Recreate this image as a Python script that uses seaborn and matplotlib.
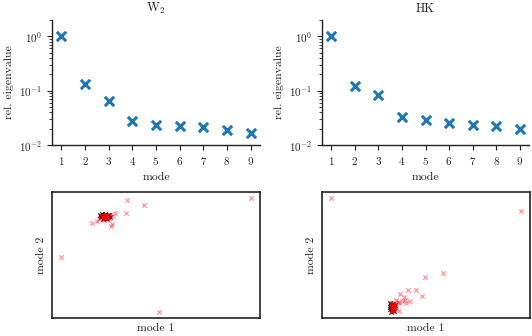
import numpy as np
import pandas as pd
import matplotlib
matplotlib.use("Agg")
import matplotlib.pyplot as plt
import seaborn as sns

# ---- data ----
modes = [1, 2, 3, 4, 5, 6, 7, 8, 9]
eig_w2 = [1.0, 0.134, 0.065, 0.028, 0.0234, 0.0221, 0.0215, 0.0192, 0.0167]
eig_hk = [1.0, 0.1245, 0.0826, 0.0334, 0.0285, 0.0255, 0.0231, 0.0224, 0.0197]

w2_red_m1 = [250, 127, 144, 126, 92, 97, 111, 112, 115, 62, 159,
             104, 106, 107, 105, 108, 103, 106, 109, 101, 110, 113, 100, 104, 99,
             105, 106, 107, 104, 105, 106, 107, 103, 108, 105, 106, 104, 107, 105,
             106, 105, 104, 107, 106, 105]
w2_red_m2 = [138, 136, 131, 123, 113, 115, 110, 112, 123, 79, 24,
             120, 119, 118, 118, 120, 119, 121, 118, 120, 121, 120, 121, 116, 117,
             119, 119, 119, 118, 120, 120, 120, 119, 119, 118, 118, 120, 118, 121,
             121, 119, 119, 120, 119, 120]
w2_blk_m1 = [100, 101, 102, 105, 108, 103, 107, 110, 104, 101, 109]
w2_blk_m2 = [121, 119, 122, 122, 121, 117, 117, 119, 119, 120, 121]

hk_red_m1 = [331, 520, 442, 425, 416, 408, 422, 400, 404, 405, 410, 406, 399, 399,
             396, 398, 402, 395, 392, 393, 394, 392, 395, 391, 394, 393, 396, 392,
             392, 393, 393, 394, 392, 393, 394, 393, 392, 393, 394, 393, 392, 394]
hk_red_m2 = [138, 125, 63, 59, 46, 46, 40, 42, 39, 36, 35, 33, 33, 25,
             36, 34, 35, 33, 31, 29, 27, 25, 30, 28, 32, 26, 28, 33,
             29, 30, 28, 27, 26, 31, 29, 27, 28, 26, 30, 25, 30, 28]
hk_blk_m1 = [390, 391, 393, 390, 394, 392, 395, 390, 391]
hk_blk_m2 = [33, 30, 32, 27, 25, 28, 31, 29, 24]

# ---- style ----
sns.set_style("ticks")
plt.rcParams.update({
    "font.family": "serif",
    "font.serif": ["cmr10", "DejaVu Serif"],
    "mathtext.fontset": "cm",
    "axes.formatter.use_mathtext": True,
    "font.size": 8,
    "axes.titlesize": 9,
    "axes.labelsize": 8.5,
    "xtick.labelsize": 8,
    "ytick.labelsize": 8,
    "axes.edgecolor": "#222222",
    "axes.linewidth": 1.0,
    "xtick.color": "#222222",
    "ytick.color": "#222222",
    "text.color": "#222222",
    "axes.labelcolor": "#222222",
})

W, H = 532, 336
fig = plt.figure(figsize=(W / 100, H / 100), dpi=100)

def pos(x0, y0, x1, y1):
    return [x0 / W, 1 - y1 / H, (x1 - x0) / W, (y1 - y0) / H]

ax_tl = fig.add_axes(pos(52, 20, 260, 145))
ax_tr = fig.add_axes(pos(322, 20, 529, 145))
ax_bl = fig.add_axes(pos(52, 192, 260, 318))
ax_br = fig.add_axes(pos(322, 192, 530, 318))

for ax, vals, title in [(ax_tl, eig_w2, r"W$_2$"), (ax_tr, eig_hk, "HK")]:
    df = pd.DataFrame({"mode": modes, "ev": vals})
    sns.scatterplot(data=df, x="mode", y="ev", ax=ax, marker="x", s=45,
                    linewidth=2.2, color="#1f77b4")
    ax.set_yscale("log")
    ax.set_ylim(1e-2, 2.0)
    ax.set_xticks(modes)
    ax.set_xlabel("mode")
    ax.set_ylabel("rel. eigenvalue")
    ax.set_title(title)
    sns.despine(ax=ax)

for ax, rx, ry, bx, by in [(ax_bl, w2_red_m1, w2_red_m2, w2_blk_m1, w2_blk_m2),
                           (ax_br, hk_red_m1, hk_red_m2, hk_blk_m1, hk_blk_m2)]:
    sns.scatterplot(x=bx, y=by, ax=ax, marker="x", s=10, linewidth=0.9,
                    color="black", alpha=0.8)
    sns.scatterplot(x=rx, y=ry, ax=ax, marker="x", s=10, linewidth=0.9,
                    color="red", alpha=0.4)
    ax.set_xticks([])
    ax.set_yticks([])
    ax.set_xlabel("mode 1")
    ax.set_ylabel("mode 2")
    for sp in ax.spines.values():
        sp.set_visible(True)
        sp.set_linewidth(1.2)

fig.savefig("out.png", dpi=100)
